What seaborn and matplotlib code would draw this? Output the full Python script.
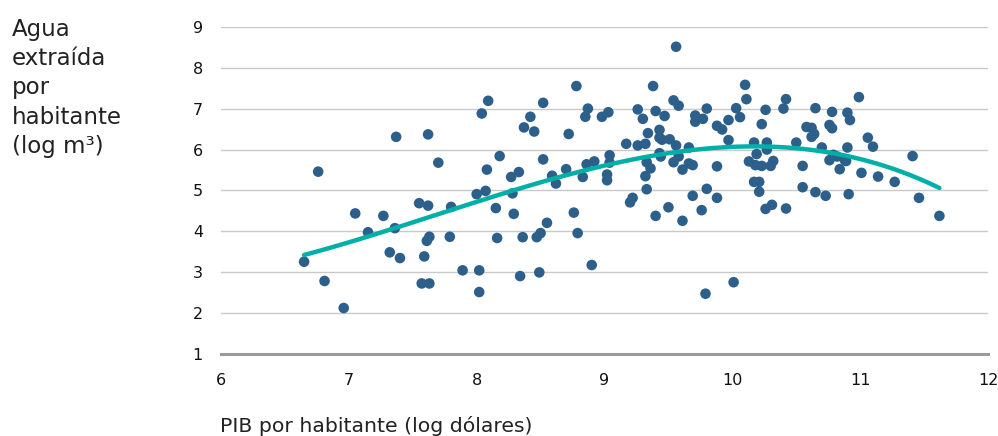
import numpy as np
import pandas as pd
import matplotlib
matplotlib.use('Agg')
import matplotlib.pyplot as plt
import seaborn as sns

# ── Data ──────────────────────────────────────────────────────────────────────
pib = [6.65, 6.76, 6.81, 6.96, 7.05, 7.15, 7.27, 7.32, 7.36, 7.37, 7.40, 7.55,
       7.57, 7.59, 7.62, 7.62, 7.63, 7.61, 7.63, 7.70, 7.79, 7.80, 7.89,
       8.00, 8.02, 8.02, 8.04, 8.07, 8.08, 8.09, 8.15, 8.16, 8.18, 8.27, 8.28,
       8.29, 8.33, 8.34, 8.36, 8.37, 8.42, 8.45, 8.47, 8.49, 8.50, 8.52, 8.52,
       8.55, 8.59, 8.62, 8.70, 8.72, 8.76, 8.78, 8.79, 8.83, 8.85, 8.86, 8.87,
       8.90, 8.92, 8.98, 9.03, 9.02, 9.02, 9.04, 9.04, 9.17, 9.20, 9.22, 9.26,
       9.26, 9.30, 9.32, 9.32, 9.33, 9.33, 9.34, 9.36, 9.38, 9.40, 9.40, 9.43,
       9.43, 9.43, 9.44, 9.45, 9.47, 9.50, 9.51, 9.54, 9.54, 9.56, 9.56, 9.58,
       9.58, 9.61, 9.61, 9.66, 9.66, 9.69, 9.69, 9.71, 9.71, 9.76, 9.77, 9.79,
       9.80, 9.80, 9.88, 9.88, 9.88, 9.92, 9.97, 9.97, 10.01, 10.03, 10.06,
       10.10, 10.11, 10.13, 10.17, 10.17, 10.18, 10.19, 10.21, 10.21, 10.23,
       10.23, 10.26, 10.26, 10.27, 10.27, 10.30, 10.31, 10.32, 10.40, 10.42,
       10.42, 10.50, 10.55, 10.55, 10.58, 10.62, 10.62, 10.64, 10.65, 10.65,
       10.70, 10.73, 10.76, 10.78, 10.78, 10.76, 10.79, 10.82, 10.84, 10.88,
       10.89, 10.90, 10.90, 10.92, 10.91, 10.99, 11.01, 11.06, 11.10, 11.14,
       11.27, 11.41, 11.46, 11.62]
agua = [3.26, 5.46, 2.79, 2.13, 4.44, 3.98, 4.38, 3.49, 4.08, 6.31, 3.35, 4.69,
        2.73, 3.39, 4.63, 6.37, 3.87, 3.77, 2.73, 5.68, 3.87, 4.60, 3.05,
        4.91, 3.05, 2.52, 6.88, 4.99, 5.51, 7.19, 4.57, 3.84, 5.84, 5.33, 4.93,
        4.43, 5.45, 2.91, 3.86, 6.54, 6.80, 6.44, 3.86, 3.00, 3.96, 7.14, 5.76,
        4.21, 5.36, 5.17, 5.52, 6.38, 4.46, 7.55, 3.96, 5.33, 6.80, 5.64, 7.00,
        3.18, 5.71, 6.80, 6.91, 5.39, 5.25, 5.86, 5.68, 6.14, 4.71, 4.82, 6.10,
        6.98, 6.75, 6.14, 5.35, 5.03, 5.69, 6.40, 5.54, 7.55, 4.38, 6.94, 6.48,
        6.29, 5.91, 5.83, 6.24, 6.82, 4.59, 6.25, 5.69, 7.20, 8.51, 6.10, 7.07,
        5.83, 5.51, 4.26, 6.05, 5.66, 5.62, 4.87, 6.83, 6.68, 4.52, 6.75, 2.48,
        7.00, 5.04, 6.58, 5.59, 4.82, 6.49, 6.72, 6.23, 2.76, 7.01, 6.79,
        7.58, 7.23, 5.71, 6.17, 5.21, 5.62, 5.89, 5.21, 4.97, 6.62,
        5.60, 6.97, 4.55, 6.17, 6.00, 5.60, 4.65, 5.72, 7.00, 7.23,
        4.56, 6.17, 5.60, 5.08, 6.55, 6.53, 6.31, 6.38, 7.01, 4.96,
        6.05, 4.87, 6.60, 6.92, 6.52, 5.74, 5.87, 5.83, 5.52, 5.74,
        5.72, 6.05, 6.90, 6.72, 4.91, 7.28, 5.43, 6.29, 6.07, 5.34,
        5.21, 5.84, 4.82, 4.38]

df = pd.DataFrame({'PIB': pib, 'Agua': agua})

x_ticks = [6, 7, 8, 9, 10, 11, 12]
y_ticks = [1, 2, 3, 4, 5, 6, 7, 8, 9]

dot_color = '#2D5F8B'
line_color = '#00B0A8'

# ── Plot ──────────────────────────────────────────────────────────────────────
sns.set_theme(style='white')
plt.rcParams['font.family'] = ['DejaVu Sans']

fig = plt.figure(figsize=(9.98, 4.36), dpi=100)
ax = fig.add_axes([221 / 998, 0.1874, 767 / 998, 0.7514])

for yv in y_ticks[1:]:
    ax.axhline(yv, color='#C9C9C9', lw=1.0, zorder=0)

sns.scatterplot(data=df, x='PIB', y='Agua', ax=ax, color=dot_color,
                s=58, edgecolor='none', zorder=3)
sns.regplot(data=df, x='PIB', y='Agua', ax=ax, order=3, scatter=False,
            ci=None, truncate=True,
            line_kws=dict(color=line_color, lw=3.2, solid_capstyle='round', zorder=4))

ax.set_xlim(6, 12)
ax.set_ylim(1, 9)
ax.set_xticks(x_ticks)
ax.set_yticks(y_ticks)
ax.tick_params(axis='both', length=0, labelsize=11.5, colors='#111111')
ax.tick_params(axis='x', pad=13.5)
ax.tick_params(axis='y', pad=13)

for side in ['top', 'right', 'left']:
    ax.spines[side].set_visible(False)
ax.spines['bottom'].set_color('#9A9A9A')
ax.spines['bottom'].set_linewidth(2.2)

ax.set_xlabel('')
ax.set_ylabel('')

fig.text(12 / 998, 1 - 152.7 / 436, 'Agua\nextraída\npor\nhabitante\n(log m³)',
         ha='left', va='baseline', fontsize=16.5, linespacing=1.34, color='#222222')
fig.text(220.5 / 998, 4 / 436, 'PIB por habitante (log dólares)',
         ha='left', va='baseline', fontsize=14.7, color='#222222')

fig.savefig('out.png', dpi=100)
